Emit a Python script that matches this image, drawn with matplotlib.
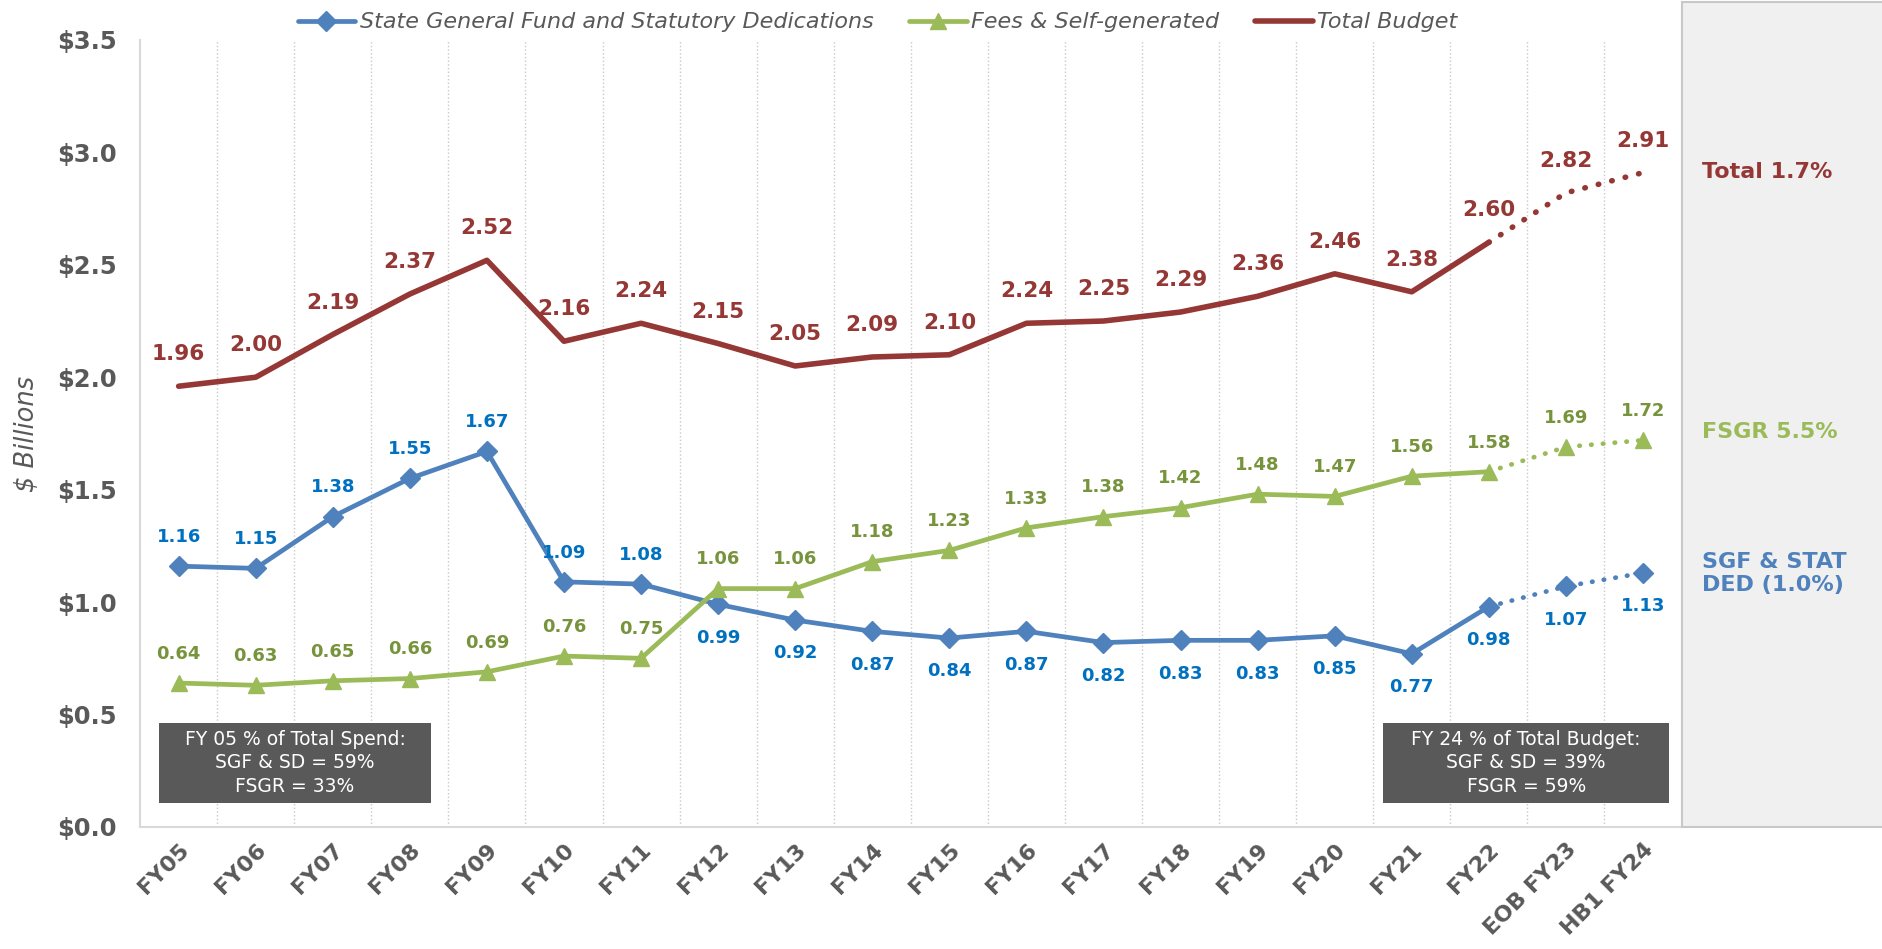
import matplotlib.pyplot as plt
from matplotlib.patches import Rectangle

# values ($ billions)
years = ["FY05", "FY06", "FY07", "FY08", "FY09", "FY10", "FY11", "FY12", "FY13",
         "FY14", "FY15", "FY16", "FY17", "FY18", "FY19", "FY20", "FY21", "FY22",
         "EOB FY23", "HB1 FY24"]
sgf = [1.16, 1.15, 1.38, 1.55, 1.67, 1.09, 1.08, 0.99, 0.92, 0.87, 0.84, 0.87,
       0.82, 0.83, 0.83, 0.85, 0.77, 0.98, 1.07, 1.13]
fsgr = [0.64, 0.63, 0.65, 0.66, 0.69, 0.76, 0.75, 1.06, 1.06, 1.18, 1.23, 1.33,
        1.38, 1.42, 1.48, 1.47, 1.56, 1.58, 1.69, 1.72]
total = [1.96, 2.00, 2.19, 2.37, 2.52, 2.16, 2.24, 2.15, 2.05, 2.09, 2.10, 2.24,
         2.25, 2.29, 2.36, 2.46, 2.38, 2.60, 2.82, 2.91]
growth_labels = ["Total 1.7%", "FSGR 5.5%", "SGF & STAT\nDED (1.0%)"]
box_left = "FY 05 % of Total Spend:\nSGF & SD = 59%\nFSGR = 33%"
box_right = "FY 24 % of Total Budget:\nSGF & SD = 39%\nFSGR = 59%"

BLUE, BLUE_TXT = "#4F81BD", "#0070C0"
GREEN, GREEN_TXT = "#9BBB59", "#77933C"
RED = "#953735"
GRAY = "#595959"

ACTUAL = 17  # last actual year (FY22); projections after it are dotted
DOTS = (0, (0.1, 2.4))

fig = plt.figure(figsize=(18.83, 9.49), dpi=100)
ax = fig.add_axes([0.0744, 0.1286, 0.8186, 0.8293])

# grey side panel for the growth rates
fig.patches.append(Rectangle((0.893, 0.1286), 0.2, 0.869, transform=fig.transFigure,
                             facecolor="#f0f0f0", edgecolor="#c8c8c8", lw=1.5, zorder=0))

x = list(range(len(years)))


def draw_series(vals, color, marker, ms, lw, label):
    ax.plot(x[:ACTUAL + 1], vals[:ACTUAL + 1], color=color, lw=lw, marker=marker,
            ms=ms, label=label, zorder=3, solid_capstyle="round")
    ax.plot(x[ACTUAL:], vals[ACTUAL:], color=color, lw=lw, ls=DOTS,
            dash_capstyle="round", zorder=3)
    if marker:
        ax.plot(x[ACTUAL + 1:], vals[ACTUAL + 1:], color=color, lw=0, marker=marker,
                ms=ms, zorder=3)


draw_series(sgf, BLUE, "D", 10, 3.4, "State General Fund and Statutory Dedications")
draw_series(fsgr, GREEN, "^", 11, 3.4, "Fees & Self-generated")
draw_series(total, RED, None, 0, 4.0, "Total Budget")

for i, v in enumerate(total):
    ax.annotate(f"{v:.2f}", (i, v), xytext=(0, 23), textcoords="offset points",
                ha="center", va="center", color=RED, fontsize=15.5, fontweight="bold")
for i, v in enumerate(sgf):
    dy = 21 if i < 7 else -24
    ax.annotate(f"{v:.2f}", (i, v), xytext=(0, dy), textcoords="offset points",
                ha="center", va="center", color=BLUE_TXT, fontsize=13, fontweight="bold")
for i, v in enumerate(fsgr):
    ax.annotate(f"{v:.2f}", (i, v), xytext=(0, 21), textcoords="offset points",
                ha="center", va="center", color=GREEN_TXT, fontsize=13, fontweight="bold")

# info boxes (dark grey note boxes at the bottom corners)
for (x0, x1), txt in [((-0.25, 3.27), box_left), ((15.63, 19.34), box_right)]:
    ax.add_patch(Rectangle((x0, 0.108), x1 - x0, 0.355, facecolor=GRAY,
                           edgecolor="none", zorder=5))
    ax.text((x0 + x1) / 2, 0.285, txt, ha="center", va="center", color="white",
            fontsize=13.5, linespacing=1.3, zorder=6)

# growth rates in the side panel
fig.text(0.904, 0.819, growth_labels[0], color=RED, fontsize=16, fontweight="bold", va="center")
fig.text(0.904, 0.545, growth_labels[1], color=GREEN, fontsize=16, fontweight="bold", va="center")
fig.text(0.904, 0.396, growth_labels[2], color=BLUE, fontsize=16, fontweight="bold",
         va="center", linespacing=1.2)

ax.set_xlim(-0.5, len(years) - 0.5)
ax.set_ylim(0, 3.5)
ax.set_yticks([0, 0.5, 1.0, 1.5, 2.0, 2.5, 3.0, 3.5])
ax.set_yticklabels([f"${t:.1f}" for t in ax.get_yticks()], fontsize=17.5,
                   fontweight="bold", color=GRAY)
ax.set_xticks(x)
ax.set_xticklabels(years, rotation=45, ha="right", rotation_mode="anchor",
                   fontsize=16, fontweight="bold", color=GRAY)
ax.tick_params(axis="y", length=0, pad=17)
ax.tick_params(axis="x", length=0, pad=9)
ax.set_ylabel("$ Billions", fontsize=18.5, fontstyle="italic", color=GRAY, labelpad=12)

ax.vlines([i + 0.5 for i in range(len(years) - 1)], 0, 3.5, colors="#c8c8c8",
          linestyles=":", lw=1, zorder=1)
for side in ["top", "right"]:
    ax.spines[side].set_visible(False)
for side in ["left", "bottom"]:
    ax.spines[side].set_color("#d9d9d9")
    ax.spines[side].set_linewidth(1.5)

leg = fig.legend(loc="upper center", bbox_to_anchor=(0.466, 1.008), ncol=3, frameon=False,
                 handlelength=2.6, columnspacing=1.6, handletextpad=0.2,
                 prop=dict(size=16, style="italic"))
for t in leg.get_texts():
    t.set_color(GRAY)

fig.savefig("out.png", dpi=100)
